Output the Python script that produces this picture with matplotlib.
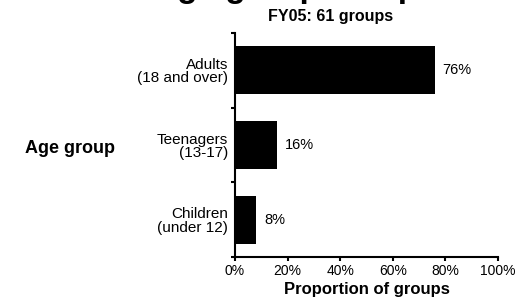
import numpy as np
import matplotlib.pyplot as plt

plt.rcParams['font.family'] = ['Liberation Sans', 'DejaVu Sans']

categories = ['Adults\n(18 and over)', 'Teenagers\n(13-17)', 'Children\n(under 12)']
values = [76, 16, 8]
xticks = [0, 20, 40, 60, 80, 100]
xtick_labels = ['0%', '20%', '40%', '60%', '80%', '100%']

fig = plt.figure(figsize=(5.16, 3.0), dpi=100)
ax = fig.add_axes([0.4555, 0.143, 0.5095, 0.747])

y = np.arange(len(categories))[::-1]
ax.barh(y, values, height=0.64, color='black')
for yi, v in zip(y, values):
    ax.text(v + 3, yi, '%d%%' % v, va='center', ha='left', fontsize=10.5)

ax.set_xlim(0, 100)
ax.set_ylim(-0.5, 2.5)
ax.set_xticks(xticks)
ax.set_xticklabels(xtick_labels, fontsize=10)
ax.set_yticks(y)
ax.set_yticklabels(categories, fontsize=11, ha='right', linespacing=0.95)
ax.set_yticks([-0.5, 0.5, 1.5, 2.5], minor=True)
ax.tick_params(axis='y', which='major', length=0, pad=5)
ax.tick_params(axis='y', which='minor', length=3, width=1.5, direction='out')
ax.tick_params(axis='x', length=3, width=1.5, direction='out', pad=2)
ax.spines['top'].set_visible(False)
ax.spines['right'].set_visible(False)
ax.spines['left'].set_linewidth(1.5)
ax.spines['bottom'].set_linewidth(1.5)

ax.set_xlabel('Proportion of groups', fontsize=12, fontweight='bold', labelpad=3)
fig.text(0.136, 0.505, 'Age group', fontsize=13, fontweight='bold', ha='center', va='center')
fig.text(0.64, 0.945, 'FY05: 61 groups', fontsize=11.5, fontweight='bold', ha='center', va='center')
fig.text(0.66, 0.985, 'Age group composition', fontsize=24, fontweight='bold', ha='center', va='bottom')

fig.savefig('out.png', dpi=100)
